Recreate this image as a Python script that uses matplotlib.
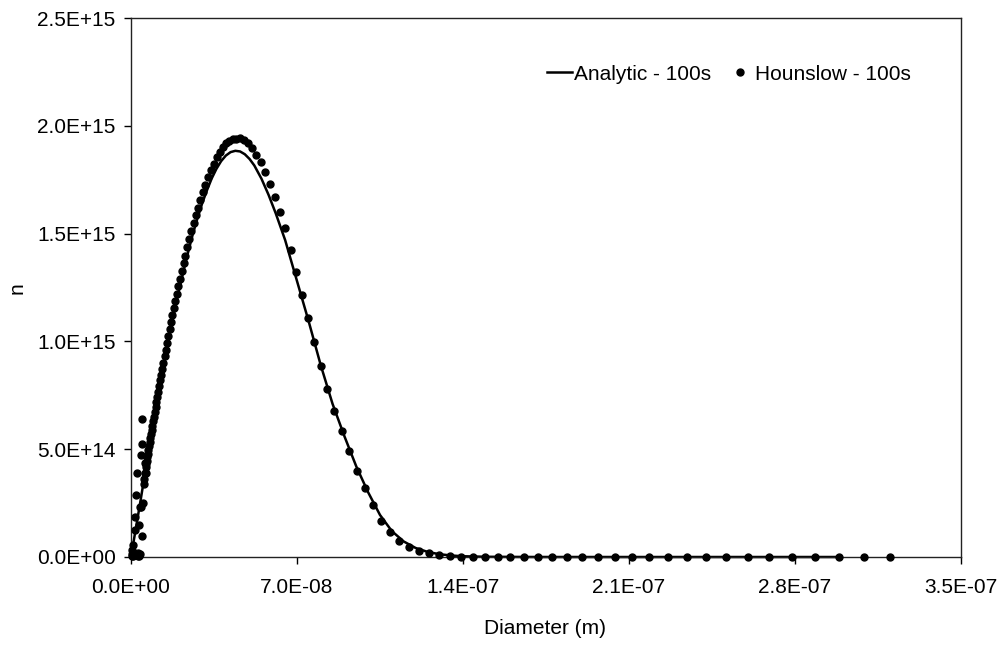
import matplotlib
matplotlib.use('Agg')
import matplotlib.pyplot as plt
import matplotlib.ticker as ticker
import numpy as np

plt.rcParams['font.family'] = ['Liberation Sans', 'DejaVu Sans']

# analytic solution, diameter in nm, n in 1E+15
analytic_d = [0, 2, 4, 6, 8, 10, 12, 14, 16, 18, 20, 22, 24, 26, 28, 30, 32, 34, 36, 38,
              40, 42, 44, 46, 48, 50, 52, 55, 58, 61, 65, 70, 75, 80, 85, 90, 95, 100,
              105, 110, 115, 120, 125, 130, 135, 140, 150, 170, 200, 297]
analytic_n = [0, 0.13, 0.26, 0.395, 0.53, 0.655, 0.78, 0.90, 1.02, 1.125, 1.225, 1.32, 1.41,
              1.495, 1.57, 1.64, 1.70, 1.755, 1.80, 1.836, 1.862, 1.878, 1.884, 1.881, 1.868,
              1.846, 1.816, 1.755, 1.68, 1.595, 1.47, 1.28, 1.09, 0.89, 0.71, 0.56, 0.42, 0.30,
              0.195, 0.12, 0.072, 0.042, 0.024, 0.013, 0.007, 0.0035, 0.001, 0.0001, 0, 0]

# Hounslow discretisation, diameter in nm, n in 1E+15
hounslow_d = [0.30, 0.45, 0.60, 0.84, 1.05, 1.30, 1.55, 1.80, 2.11, 2.30, 2.53, 2.75, 2.96,
              3.20, 3.50, 3.80, 4.00, 4.22, 4.30, 4.55, 4.64, 4.70, 5.07, 5.30, 5.50, 5.91,
              6.00, 6.33,
              6.157, 6.375, 6.599, 6.832, 7.073, 7.323, 7.581, 7.848,
              8.125, 8.411, 8.708, 9.015, 9.333, 9.662, 10.00, 10.36, 10.72, 11.10,
              11.49, 11.90, 12.31, 12.75, 13.20, 13.66, 14.15, 14.65, 15.16, 15.70,
              16.25, 16.82, 17.42, 18.03, 18.67, 19.32, 20.01, 20.71, 21.44, 22.20,
              22.98, 23.79, 24.63, 25.50, 26.40, 27.33, 28.29, 29.29, 30.32, 31.39,
              32.50, 33.65, 34.83, 36.06, 37.33, 38.65, 40.01, 41.42, 42.88, 44.40,
              45.96, 47.58, 49.26, 51.00, 52.79, 54.66, 56.58, 58.58, 60.65, 62.78,
              65.00, 67.29, 69.66, 72.12, 74.66, 77.30, 80.02, 82.84, 85.77, 88.79,
              91.92, 95.16, 98.52, 102.0, 105.6, 109.3, 113.2, 117.2, 121.3, 125.6,
              130.0, 134.6, 139.3, 144.2, 149.3, 154.6, 160.0, 165.7, 171.5, 177.6,
              183.8, 190.3, 197.0, 204.0, 211.2, 218.6, 226.3, 234.3, 242.6, 251.1,
              260.0, 269.2, 278.7, 288.5, 298.7, 309.2, 320.1]
hounslow_n = [0.032, 0.004, 0.012, 0.056, 0.003, 0.008, 0.185, 0.125, 0.287, 0.010, 0.389,
              0.005, 0.019, 0.150, 0.003, 0.230, 0.012, 0.472, 0.231, 0.097, 0.639, 0.523,
              0.250, 0.340, 0.360, 0.435, 0.390, 0.389,
              0.416, 0.431, 0.446, 0.462, 0.479, 0.496, 0.514, 0.533,
              0.551, 0.570, 0.589, 0.608, 0.629, 0.650, 0.671, 0.694, 0.718, 0.742,
              0.767, 0.793, 0.819, 0.846, 0.873, 0.902, 0.932, 0.962, 0.994, 1.027,
              1.059, 1.090, 1.122, 1.155, 1.187, 1.221, 1.256, 1.290, 1.326, 1.362,
              1.398, 1.436, 1.473, 1.511, 1.548, 1.584, 1.620, 1.656, 1.691, 1.724,
              1.762, 1.794, 1.825, 1.854, 1.878, 1.900, 1.918, 1.930, 1.937, 1.941,
              1.944, 1.935, 1.918, 1.896, 1.866, 1.830, 1.785, 1.730, 1.668, 1.600,
              1.525, 1.425, 1.320, 1.215, 1.110, 0.998, 0.885, 0.780, 0.678, 0.585,
              0.493, 0.400, 0.318, 0.240, 0.168, 0.115, 0.076, 0.048, 0.029, 0.017,
              0.008, 0.004, 0.002, 0.001, 0.0005, 0.0002, 0.0001, 0, 0, 0,
              0, 0, 0, 0, 0, 0, 0, 0, 0, 0,
              0, 0, 0, 0, 0, 0, 0]

x_ticks = [0, 7e-8, 1.4e-7, 2.1e-7, 2.8e-7, 3.5e-7]
y_ticks = [0, 5e14, 1e15, 1.5e15, 2e15, 2.5e15]

fig = plt.figure(figsize=(10.01, 6.58), dpi=100)
ax = fig.add_axes([131 / 1001, 1 - 557 / 658, 830 / 1001, 539 / 658])

ax.plot(np.array(analytic_d) * 1e-9, np.array(analytic_n) * 1e15, color='black', lw=1.8,
        label='Analytic - 100s', clip_on=False, zorder=2)
ax.plot(np.array(hounslow_d) * 1e-9, np.array(hounslow_n) * 1e15, 'o', color='black', ms=5,
        label='Hounslow - 100s', clip_on=False, zorder=3)

ax.set_xlim(0, 3.5e-7)
ax.set_ylim(0, 2.5e15)
ax.set_xticks(x_ticks)
ax.set_yticks(y_ticks)
fmt = ticker.FuncFormatter(lambda v, p: '%.1E' % v)
ax.xaxis.set_major_formatter(fmt)
ax.yaxis.set_major_formatter(fmt)
ax.tick_params(direction='out', length=5, width=1, labelsize=15, colors='black')
ax.tick_params(axis='x', pad=10)
ax.tick_params(axis='y', pad=6)
for s in ax.spines.values():
    s.set_linewidth(1)
    s.set_color('#222222')

fig.text(545 / 1001, 1 - 628 / 658, 'Diameter (m)', ha='center', va='center', fontsize=15)
fig.text(17 / 1001, 1 - 288 / 658, 'n', ha='center', va='center', rotation=90, fontsize=15)

ax.legend(ncol=2, frameon=False, loc='center', bbox_to_anchor=(729 / 1001, 1 - 74 / 658),
          bbox_transform=fig.transFigure, handlelength=1.2, handletextpad=0.1,
          columnspacing=0.8, fontsize=15)

plt.savefig('out.png', dpi=100)
plt.close()
